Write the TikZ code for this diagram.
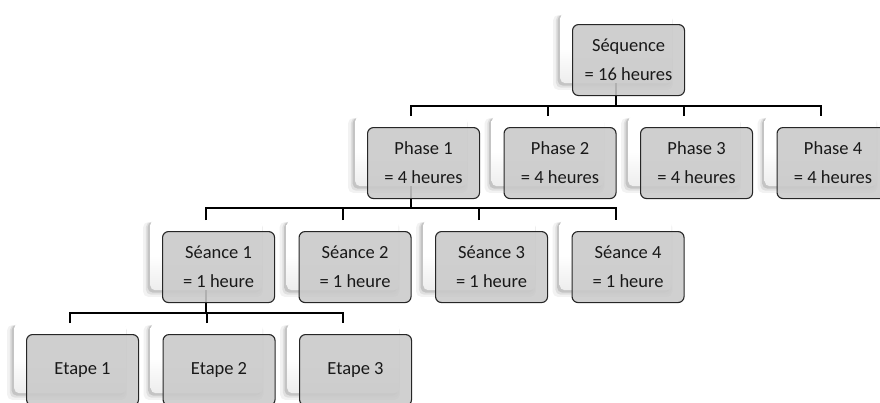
\documentclass[tikz,border=0pt]{standalone}
\usepackage{fontspec}
\setmainfont{Carlito}
\usetikzlibrary{shadows}
\begin{document}
\begin{tikzpicture}[x=1pt,y=-1pt,
 wbox/.style={rounded corners=5pt, top color=white, bottom color=black!7, middle color=white, minimum width=112pt, minimum height=70pt, inner sep=0pt, anchor=north west,
   general shadow={fill=black, opacity=0.05, shadow xshift=-3pt, shadow yshift=-4pt, shadow scale=1.07},
   general shadow={fill=black, opacity=0.08, shadow xshift=-2pt, shadow yshift=-3pt, shadow scale=1.04},
   general shadow={fill=black, opacity=0.12, shadow xshift=-2pt, shadow yshift=-2pt, shadow scale=1.01}},
 gbox/.style={rounded corners=6pt, fill=black!21, fill opacity=0.88, text opacity=1, draw=black!85, line width=1.1pt, minimum width=112pt, minimum height=71pt, inner sep=0pt, anchor=north west, align=center, font=\fontsize{18.5}{29}\selectfont, text=black!90},
 conn/.style={line width=2pt, draw=black}]
\useasboundingbox (0,0) rectangle (880,402);
\clip (0,0) rectangle (880,402);
% white back boxes
\node[wbox] (seq) at (560,13) {};
\node[wbox] (p1) at (355,116) {};
\node[wbox] (p2) at (491.5,116) {};
\node[wbox] (p3) at (628,116) {};
\node[wbox] (p4) at (764.5,116) {};
\node[wbox] (s1) at (150,220) {};
\node[wbox] (s2) at (286.5,220) {};
\node[wbox] (s3) at (423,220) {};
\node[wbox] (s4) at (559.5,220) {};
\node[wbox] (e1) at (14,323) {};
\node[wbox] (e2) at (150.5,323) {};
\node[wbox] (e3) at (287,323) {};
% levels
\coordinate (h1) at (0,106);
\coordinate (h2) at (0,208);
\coordinate (h3) at (0,313);
% connectors
\draw[conn] (seq.south) -- (seq.south |- h1);
\draw[conn] (p1.north) -- (p1.north |- h1) -- (p4.north |- h1) -- (p4.north);
\draw[conn] (p2.north) -- (p2.north |- h1);
\draw[conn] (p3.north) -- (p3.north |- h1);
\draw[conn] (p1.south) -- (p1.south |- h2);
\draw[conn] (s1.north) -- (s1.north |- h2) -- (s4.north |- h2) -- (s4.north);
\draw[conn] (s2.north) -- (s2.north |- h2);
\draw[conn] (s3.north) -- (s3.north |- h2);
\draw[conn] (s1.south) -- (s1.south |- h3);
\draw[conn] (e1.north) -- (e1.north |- h3) -- (e3.north |- h3) -- (e3.north);
\draw[conn] (e2.north) -- (e2.north |- h3);
% gray front boxes
\node[gbox] (seqG) at (572,24) {Séquence\\= 16 heures};
\node[gbox] (p1G) at (367,127) {Phase 1\\= 4 heures};
\node[gbox] (p2G) at (503.5,127) {Phase 2\\= 4 heures};
\node[gbox] (p3G) at (640,127) {Phase 3\\= 4 heures};
\node[gbox] (p4G) at (776.5,127) {Phase 4\\= 4 heures};
\node[gbox] (s1G) at (162,231) {Séance 1\\= 1 heure};
\node[gbox] (s2G) at (298.5,231) {Séance 2\\= 1 heure};
\node[gbox] (s3G) at (435,231) {Séance 3\\= 1 heure};
\node[gbox] (s4G) at (571.5,231) {Séance 4\\= 1 heure};
\node[gbox] (e1G) at (26,334) {Etape 1};
\node[gbox] (e2G) at (162.5,334) {Etape 2};
\node[gbox] (e3G) at (299,334) {Etape 3};
\end{tikzpicture}
\end{document}
